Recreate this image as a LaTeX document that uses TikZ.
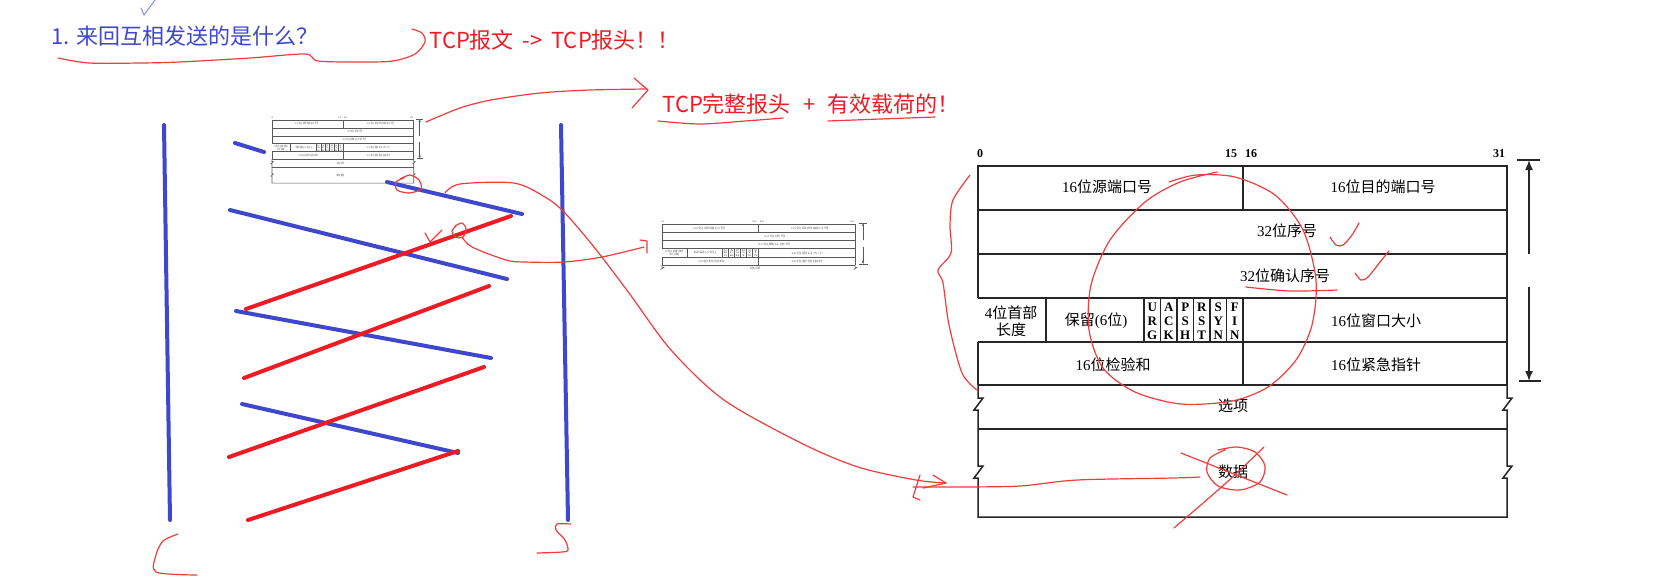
\documentclass[tikz,border=0pt]{standalone}
\usepackage{fontspec}
\setmainfont{Liberation Serif}
\newfontfamily\cjk{Noto Sans CJK SC}
\usetikzlibrary{arrows.meta}
\definecolor{pblue}{RGB}{63,72,204}
\definecolor{pred}{RGB}{237,28,36}
\definecolor{thinred}{RGB}{240,60,60}
\tikzset{
  tline/.style={line width=0.75pt, black!85},
  tarrow/.style={-{Latex[length=5pt,width=4pt]}},
  ttext/.style={font=\fontsize{7.5pt}{8.6pt}\selectfont, inner sep=0pt, align=center},
  flagtext/.style={font=\bfseries\fontsize{6.5pt}{6.9pt}\selectfont, align=center, inner sep=0pt},
  numlabel/.style={font=\bfseries\fontsize{6pt}{6pt}\selectfont, inner sep=0pt},
  bluestroke/.style={pblue, line width=2pt, line cap=round},
  redstroke/.style={pred, line width=2pt, line cap=round},
  sketch/.style={thinred, line width=0.6pt, line cap=round, line join=round},
  hand/.style={font=\cjk\fontsize{11pt}{12pt}\selectfont, inner sep=0pt, anchor=west},
}
\newcommand\tcphead{%
  \draw[tline] (0,132) -- (0,0) -- (529,0) -- (529,219);
  \draw[tline] (0,176) -- (0,219);
  \foreach \yy in {44,88,132,176,219} \draw[tline] (0,\yy) -- (529,\yy);
  \draw[tline] (265,0) -- (265,44);
  \draw[tline] (265,176) -- (265,219);
  \draw[tline] (68,132) -- (68,176);
  \foreach \i in {0,...,6} \draw[tline] ({166+\i*16.5},132) -- ({166+\i*16.5},176);
  \node[ttext] (src) at (129,21) {16{\cjk 位源端口号}};
  \node[ttext] (dst) at (405,21) {16{\cjk 位目的端口号}};
  \node[ttext] (seq) at (309,65) {32{\cjk 位序号}};
  \node[ttext] (ack) at (307,110) {32{\cjk 位确认序号}};
  \node[ttext] (hlen) at (33,155) {4{\cjk 位首部}\\{\cjk 长度}};
  \node[ttext] (rsv) at (118,155) {{\cjk 保留}(6{\cjk 位})};
  \node[flagtext] (furg) at (174.25,155) {U\\R\\G};
  \node[flagtext] (fack) at (190.75,155) {A\\C\\K};
  \node[flagtext] (fpsh) at (207.25,155) {P\\S\\H};
  \node[flagtext] (frst) at (223.75,155) {R\\S\\T};
  \node[flagtext] (fsyn) at (240.25,155) {S\\Y\\N};
  \node[flagtext] (ffin) at (256.75,155) {F\\I\\N};
  \node[ttext] (win) at (398,155) {16{\cjk 位窗口大小}};
  \node[ttext] (sum) at (135,199) {16{\cjk 位检验和}};
  \node[ttext] (urgp) at (398,199) {16{\cjk 位紧急指针}};
}
\newcommand\tcplow{%
  \draw[tline] (0,219) -- (0,232) -- (5,232) -- (-4,244) -- (0,244) -- (0,300) -- (5,300) -- (-4,312) -- (0,312) -- (0,351)
     -- (529,351) -- (529,312) -- (525,312) -- (534,300) -- (529,300) -- (529,244) -- (525,244) -- (534,232) -- (529,232) -- (529,219);
  \draw[tline] (0,263) -- (529,263);
  \node[ttext] (dat) at (255,306) {\cjk 数据};
}
\newcommand\tcpopt{\node[ttext] (opt) at (255,240) {\cjk 选项};}
\newcommand\tcpmarks{%
  \node[numlabel] (n0) at (2,-12) {0};
  \node[numlabel] (n15) at (253,-12) {15};
  \node[numlabel] (n16) at (273,-12) {16};
  \node[numlabel] (n31) at (521,-12) {31};
  \draw[tline] (539,-6) -- (562,-6);
  \draw[tline] (541,215) -- (563,215);
  \draw[tline, tarrow] (551,88) -- (551,-6);
  \draw[tline, tarrow] (551,121) -- (551,215);
}
\begin{document}
\begin{tikzpicture}[x=0.5pt, y=-0.5pt]
\fill[white] (0,0) rectangle (1655,586);
\useasboundingbox (0,0) rectangle (1655,586);

% ---------- texts at the top ----------
\draw[pblue!60, line width=0.5pt, line cap=round] (141,8) -- (144,15) -- (155,0);
\node[hand, text=pblue] (q1) at (51,36) {1. 来回互相发送的是什么？};
\node[hand, text=pred] (ans1) at (429,40) {TCP报文\hspace{0.4em}->\hspace{0.4em}TCP报头！！};
\node[hand, text=pred] (ans2) at (662,104) {TCP完整报头\hspace{0.55em}+\hspace{0.55em}有效载荷的！};
\draw[sketch] plot[smooth] coordinates {(58,58) (89,63) (140,63) (179,62) (250,58) (305,54) (318,61) (360,62) (393,61) (415,54) (425,42) (422,33) (412,29)};
\draw[sketch] plot[smooth] coordinates {(658,121) (700,124) (745,121) (783,118)};
\draw[sketch] plot[smooth] coordinates {(828,121) (880,119) (935,117)};

% ---------- thumbnails ----------
\begin{scope}[shift={(272,120)}, xscale=0.268, yscale=0.18, transform shape, name prefix=ta-,
  tline/.style={line width=0.3pt, black!65}, tarrow/.style={-{Latex[length=1.5pt,width=1.2pt]}},
  ttext/.append style={text=black!55}, flagtext/.append style={text=black!55}, numlabel/.append style={text=black!55}]
  \tcphead \tcplow \tcpopt \tcpmarks
\end{scope}
\begin{scope}[shift={(662,224)}, xscale=0.365, yscale=0.187, transform shape, name prefix=tb-,
  tline/.style={line width=0.3pt, black!65}, tarrow/.style={-{Latex[length=1.5pt,width=1.2pt]}},
  ttext/.append style={text=black!55}, flagtext/.append style={text=black!55}, numlabel/.append style={text=black!55}]
  \tcphead \tcpopt \tcpmarks
  \draw[tline] (0,219) -- (0,232) -- (5,232) -- (-4,244);
  \draw[tline] (529,219) -- (529,232) -- (534,232) -- (525,244);
\end{scope}

% ---------- main TCP header ----------
\begin{scope}[shift={(978,166)}, name prefix=m-]
  \tcphead \tcplow \tcpopt \tcpmarks
\end{scope}

% ---------- time lines ----------
\draw[bluestroke] (164,125) -- (170,520);
\draw[bluestroke] (561,125) -- (568,520);
\draw[bluestroke] (235,143) -- (264,152);
\draw[bluestroke] (387,182) -- (522,214);
\draw[bluestroke] (230,210) -- (507,279);
\draw[bluestroke] (236,311) -- (491,358);
\draw[bluestroke] (242,404) -- (458,453);
\draw[redstroke] (246,309) -- (511,216);
\draw[redstroke] (244,378) -- (489,286);
\draw[redstroke] (229,457) -- (484,367);
\draw[redstroke] (248,520) -- (458,451);

% ---------- red sketch annotations ----------
\draw[sketch] plot[smooth] coordinates {(426,122) (460,108) (491,100) (540,93) (590,90) (647,89)};
\draw[sketch] (634,78) -- (648,90) -- (632,108);
\draw[sketch] plot[smooth] coordinates {(400,179) (410,175) (419,180) (421,189) (409,193) (397,190) (396,182) (404,178)};
\draw[sketch] plot[smooth] coordinates {(445,193) (460,184) (514,183) (545,197) (564,212) (594,247) (629,293) (671,350) (724,400) (801,443) (858,467) (916,480) (946,483)};
\draw[sketch] (933,475) -- (946,483) -- (923,488);
\draw[sketch] (920,475) -- (913,497) -- (920,500);
\draw[sketch] (425,233) -- (430,242) -- (442,230);
\draw[sketch] plot[smooth] coordinates {(455,226) (462,223) (466,229) (463,237) (455,237) (452,231) (456,226)};
\draw[sketch] plot[smooth] coordinates {(462,237) (472,247) (506,260) (525,262) (564,262) (602,257) (644,247)};
\draw[sketch] (640,240) -- (647,241) -- (647,253);
\draw[sketch] plot[smooth] coordinates {(970,175) (953,200) (950,225) (951,253) (938,270) (943,283) (949,325) (962,373) (977,390)};
\draw[sketch] plot[smooth] coordinates {(1169,182) (1196,175) (1235,177) (1275,195) (1303,230) (1316,280) (1312,325) (1296,360) (1268,387) (1232,401) (1181,404) (1135,392) (1103,368) (1089,330) (1091,285) (1110,240) (1145,202) (1180,182) (1217,172)};
\draw[sketch] plot[smooth] coordinates {(1330,237) (1336,245) (1343,245) (1352,235) (1359,223)};
\draw[sketch] plot[smooth] coordinates {(1355,273) (1361,280) (1368,277) (1380,262) (1389,251)};
\draw[sketch] plot[smooth] coordinates {(1246,287) (1290,291) (1337,290)};
\draw[sketch] plot[smooth] coordinates {(1225,450) (1210,458) (1207,472) (1218,486) (1240,490) (1260,482) (1265,466) (1255,452) (1237,447) (1218,450)};
\draw[sketch] (1181,453) -- (1287,495);
\draw[sketch] (1264,447) .. controls (1230,480) .. (1174,528);
\draw[sketch] plot[smooth] coordinates {(913,487) (960,487) (1020,486) (1077,480) (1173,478) (1200,477)};
\draw[sketch] plot[smooth] coordinates {(178,534) (163,541) (156,555) (156,572) (197,575)};
\draw[sketch] plot[smooth] coordinates {(571,524) (557,524) (556,530) (565,540) (568,550) (562,552) (537,553)};
\end{tikzpicture}
\end{document}
